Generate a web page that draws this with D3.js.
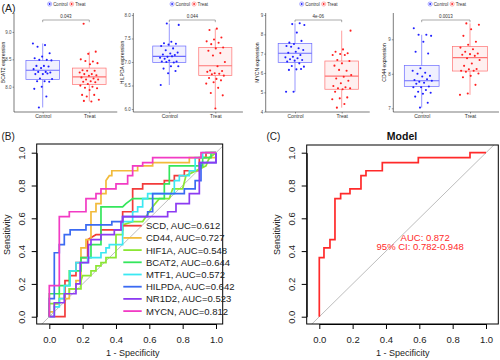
<!DOCTYPE html>
<html><head><meta charset="utf-8">
<script src="https://cdn.jsdelivr.net/npm/d3@7"></script>
<style>body{margin:0;background:#fff}svg{display:block;font-family:"Liberation Sans",Arial,Helvetica,sans-serif;font-weight:normal}</style>
</head><body><svg id="c" width="500" height="360"></svg>
<script>
// ---------------- DATA: panel A (boxplots) ----------------
const boxGenes = ["BCAT2","HILPDA","MYCN","CD44"];
const groups = ["Control","Treat"];
const pValues = ["0.043","0.044","4e-06","0.0013"];
const yTicks = [[8.0,8.5,9.0],[6.0,6.5,7.0,7.5,8.0],[4,5,6,7,8,9],[7,8,9]];
const tickFormats = [".1f",".1f","d","d"];
// [lower whisker, Q1, median, Q3, upper whisker]
const boxControl = [
  [7.62,8.13,8.30,8.48,8.79],
  [6.51,6.99,7.12,7.34,7.82],
  [5.03,6.55,7.02,7.53,8.57],
  [7.02,7.63,7.80,8.24,9.13]
];
const boxTreat = [
  [7.73,8.04,8.18,8.34,8.64],
  [6.01,6.71,6.92,7.31,7.71],
  [4.21,5.16,5.84,6.62,8.19],
  [7.39,8.08,8.47,8.79,9.46]
];
const bcat2Control = [8.79,8.76,8.73,8.61,8.55,8.52,8.49,8.49,8.48,8.38,8.38,8.37,8.34,8.32,8.27,8.27,8.26,8.23,8.23,8.24,8.15,8.14,8.10,8.10,8.09,8.00,7.96,7.82,7.62];
const bcat2Treat = [9.15,8.64,8.60,8.50,8.46,8.47,8.43,8.41,8.30,8.29,8.29,8.26,8.23,8.23,8.21,8.20,8.17,8.15,8.13,8.13,8.10,8.09,8.08,8.05,8.02,8.00,7.98,7.97,7.94,7.85,7.85,7.82,7.76,7.73,7.74];
const hilpdaControl = [7.82,7.79,7.43,7.40,7.39,7.37,7.34,7.29,7.25,7.20,7.18,7.16,7.15,7.11,7.09,7.12,7.07,7.01,7.03,7.01,6.99,7.00,6.91,6.91,6.86,6.81,6.76,6.51];
const hilpdaTreat = [7.71,7.68,7.52,7.48,7.44,7.41,7.38,7.31,7.29,7.24,7.19,7.14,7.00,6.91,6.82,6.81,6.76,6.79,6.75,6.74,6.71,6.64,6.66,6.61,6.57,6.54,6.45,6.34,6.29,6.01];
const mycnControl = [8.57,8.53,8.48,8.09,7.57,7.66,7.50,7.40,7.28,7.36,7.19,7.10,7.05,6.93,6.84,6.81,6.76,6.71,6.67,6.64,6.59,6.50,6.36,6.33,6.19,6.16,6.21,5.03,5.03];
const mycnTreat = [8.19,7.22,7.10,7.02,6.98,6.93,6.93,6.67,6.62,6.50,6.38,6.12,6.16,5.90,5.81,5.72,5.60,5.47,5.33,5.26,5.21,5.21,5.16,5.03,4.74,4.69,4.64,4.40,4.21];
const cd44Control = [9.32,9.13,9.13,9.10,8.93,8.64,8.59,8.16,8.09,8.03,8.00,7.94,7.92,7.82,7.84,7.77,7.80,7.74,7.71,7.63,7.61,7.61,7.53,7.48,7.45,7.42,7.34,7.16,7.02];
const cd44Treat = [9.46,9.42,9.29,9.10,8.93,8.84,8.76,8.71,8.64,8.59,8.57,8.55,8.52,8.45,8.40,8.30,8.23,8.14,8.13,8.09,8.09,8.06,8.01,7.94,7.90,7.68,7.43,7.39];
const pointsControl = [bcat2Control, hilpdaControl, mycnControl, cd44Control];
const pointsTreat = [bcat2Treat, hilpdaTreat, mycnTreat, cd44Treat];

// ---------------- DATA: panel B / C (ROC) ----------------
const rocGenes = ["SCD","CD44","HIF1A","BCAT2","MTF1","HILPDA","NR1D2","MYCN"];
const rocAUC = ["0.612","0.727","0.548","0.644","0.572","0.642","0.523","0.812"];
const rocTicks = [0,0.2,0.4,0.6,0.8,1.0];
const rocSCD = [[0,0],[0.094,0],[0.094,0.22],[0.125,0.22],[0.125,0.25],[0.16,0.25],[0.16,0.33],[0.19,0.33],[0.19,0.36],[0.23,0.36],[0.23,0.47],[0.28,0.5],[0.31,0.5],[0.31,0.53],[0.44,0.53],[0.44,0.64],[0.5,0.64],[0.5,0.78],[0.56,0.78],[0.56,0.81],[0.69,0.81],[0.69,0.83],[0.75,0.83],[0.75,0.86],[0.81,0.86],[0.81,0.89],[0.9,0.89],[0.9,0.97],[0.94,0.97],[0.94,1],[1,1]];
const rocCD44 = [[0,0],[0,0.03],[0.03,0.03],[0.03,0.08],[0.06,0.08],[0.06,0.11],[0.12,0.11],[0.12,0.17],[0.16,0.17],[0.16,0.22],[0.19,0.22],[0.19,0.42],[0.22,0.42],[0.22,0.47],[0.25,0.47],[0.25,0.64],[0.28,0.64],[0.28,0.69],[0.31,0.69],[0.31,0.75],[0.34,0.75],[0.34,0.83],[0.36,0.86],[0.375,0.86],[0.375,0.89],[0.53,0.89],[0.53,0.92],[0.62,0.92],[0.62,0.94],[0.84,0.94],[0.84,0.97],[1,0.97],[1,1]];
const rocHIF1A = [[0,0],[0,0.08],[0.06,0.08],[0.06,0.14],[0.12,0.14],[0.12,0.17],[0.19,0.17],[0.19,0.22],[0.2,0.25],[0.25,0.25],[0.25,0.28],[0.28,0.28],[0.28,0.31],[0.31,0.31],[0.31,0.33],[0.34,0.33],[0.34,0.36],[0.4,0.36],[0.4,0.5],[0.44,0.5],[0.44,0.56],[0.5,0.58],[0.56,0.58],[0.6,0.64],[0.62,0.67],[0.66,0.72],[0.72,0.72],[0.74,0.78],[0.8,0.78],[0.82,0.86],[0.94,0.92],[0.96,0.97],[1,1]];
const rocBCAT2 = [[0,0],[0,0.14],[0.06,0.14],[0.06,0.19],[0.12,0.19],[0.12,0.28],[0.19,0.28],[0.19,0.36],[0.25,0.36],[0.25,0.44],[0.31,0.44],[0.31,0.67],[0.44,0.67],[0.46,0.69],[0.5,0.72],[0.69,0.72],[0.69,0.81],[0.72,0.81],[0.72,0.92],[0.92,0.92],[0.92,0.97],[0.97,0.97],[0.97,1],[1,1]];
const rocMTF1 = [[0,0],[0.03,0],[0.03,0.06],[0.06,0.06],[0.06,0.11],[0.09,0.11],[0.09,0.19],[0.125,0.19],[0.125,0.28],[0.16,0.28],[0.16,0.33],[0.23,0.33],[0.23,0.36],[0.31,0.36],[0.31,0.39],[0.34,0.39],[0.34,0.42],[0.36,0.42],[0.36,0.44],[0.44,0.44],[0.44,0.58],[0.5,0.58],[0.5,0.64],[0.53,0.64],[0.53,0.67],[0.56,0.67],[0.56,0.72],[0.59,0.72],[0.59,0.75],[0.75,0.75],[0.75,0.83],[0.78,0.83],[0.78,0.86],[0.84,0.86],[0.84,0.89],[0.875,0.89],[0.875,0.97],[0.92,0.97],[0.92,1],[1,1]];
const rocHILPDA = [[0,0],[0,0.11],[0.03,0.11],[0.03,0.39],[0.06,0.39],[0.06,0.44],[0.09,0.44],[0.09,0.5],[0.125,0.5],[0.125,0.53],[0.22,0.53],[0.22,0.56],[0.375,0.56],[0.375,0.58],[0.44,0.58],[0.44,0.61],[0.59,0.61],[0.59,0.64],[0.62,0.64],[0.62,0.75],[0.81,0.75],[0.81,0.78],[0.875,0.78],[0.875,0.83],[0.91,0.83],[0.91,0.94],[1,0.94],[1,1]];
const rocNR1D2 = [[0,0],[0.03,0],[0.03,0.085],[0.09,0.085],[0.09,0.14],[0.16,0.14],[0.16,0.2],[0.185,0.2],[0.185,0.33],[0.235,0.33],[0.235,0.44],[0.25,0.44],[0.25,0.47],[0.31,0.47],[0.31,0.5],[0.39,0.5],[0.39,0.53],[0.43,0.53],[0.43,0.58],[0.44,0.58],[0.44,0.61],[0.71,0.61],[0.71,0.64],[0.76,0.64],[0.76,0.69],[0.84,0.69],[0.84,0.75],[0.9,0.75],[0.9,0.94],[1,0.94],[1,1]];
const rocMYCN = [[0,0],[0,0.19],[0.06,0.19],[0.06,0.61],[0.12,0.61],[0.12,0.64],[0.22,0.64],[0.22,0.72],[0.28,0.72],[0.28,0.75],[0.31,0.75],[0.31,0.78],[0.40,0.78],[0.40,0.81],[0.47,0.81],[0.47,0.86],[0.50,0.86],[0.50,0.92],[0.56,0.92],[0.56,0.94],[0.62,0.94],[0.62,0.97],[0.91,0.97],[0.91,1],[1,1]];
const rocCurves = [rocSCD, rocCD44, rocHIF1A, rocBCAT2, rocMTF1, rocHILPDA, rocNR1D2, rocMYCN];
const modelROC = [[0,0],[0,0.36],[0.028,0.36],[0.028,0.42],[0.064,0.42],[0.064,0.47],[0.094,0.47],[0.094,0.72],[0.128,0.72],[0.128,0.75],[0.184,0.75],[0.184,0.78],[0.25,0.78],[0.25,0.86],[0.28,0.86],[0.28,0.89],[0.378,0.89],[0.378,0.94],[0.594,0.94],[0.594,0.97],[0.904,0.97],[0.904,1],[1,1]];
const modelAUC = "0.872";
const modelCI = ["0.782","0.948"];

// ---------------- STYLES / LAYOUT ----------------
const rocColors = ["#F23B3B","#F2BB3B","#8BE634","#34E65C","#3BE8F2","#3B6AF2","#8C3BF2","#F23BC4"];
const grpStroke = ["#6B6BFF","#FF7373"], grpFill = ["#F0F0FF","#FFF0F0"], grpPoint = ["#1F1FFF","#FF1F1F"];
const layouts = [
  {axisX:14,    cx:42.7,  tx:89.3,  dom:[7.537,9.347], titleX:5},
  {axisX:133.3, cx:169.3, tx:215.3, dom:[5.936,8.043], titleX:124},
  {axisX:265.7, cx:295,   tx:341.7, dom:[3.984,9.103], titleX:258.5},
  {axisX:393.3, cx:421.7, tx:470,   dom:[6.893,9.762], titleX:386}
];
const yTop = 13, yBot = 112;
const svg = d3.select("#c");

svg.append("text").attr("x",1.5).attr("y",11.5).attr("font-size",10.5).attr("fill","#222").text("(A)");

boxGenes.forEach((gene, i) => {
  const L = layouts[i];
  const x = d3.scalePoint().domain(groups).range([L.cx, L.tx]);
  const y = d3.scaleLinear().domain(L.dom).range([yBot, yTop]);
  const step = L.tx - L.cx;
  const right = L.tx + step * 0.6;
  const g = svg.append("g");
  g.append("line").attr("x1",L.axisX).attr("x2",L.axisX).attr("y1",yTop).attr("y2",yBot).attr("stroke","#222").attr("stroke-width",0.6);
  g.append("line").attr("x1",L.axisX).attr("x2",right).attr("y1",yBot).attr("y2",yBot).attr("stroke","#222").attr("stroke-width",0.6);
  const ya = g.append("g").attr("transform",`translate(${L.axisX},0)`)
    .call(d3.axisLeft(y).tickValues(yTicks[i]).tickFormat(d3.format(tickFormats[i])).tickSize(1.5).tickPadding(1));
  ya.select(".domain").remove();
  ya.selectAll("text").attr("font-size",4.5).attr("fill","#4d4d4d").attr("font-family","Liberation Sans, Arial");
  ya.selectAll("line").attr("stroke","#333").attr("stroke-width",0.5);
  const xa = g.append("g").attr("transform",`translate(0,${yBot})`)
    .call(d3.axisBottom(x).tickSize(1.5).tickPadding(1));
  xa.select(".domain").remove();
  xa.selectAll("text").attr("font-size",5).attr("fill","#333").attr("font-family","Liberation Sans, Arial");
  xa.selectAll("line").attr("stroke","#333").attr("stroke-width",0.5);
  g.append("text").attr("transform",`translate(${L.titleX},${(yTop+yBot)/2}) rotate(-90)`)
    .attr("text-anchor","middle").attr("font-size",5).attr("fill","#111").text(gene + " expression");
  const bw = step * 0.72;
  [boxControl[i], boxTreat[i]].forEach((s, j) => {
    const cx = x(groups[j]);
    g.append("line").attr("x1",cx).attr("x2",cx).attr("y1",y(s[0])).attr("y2",y(s[4]))
      .attr("stroke",grpStroke[j]).attr("stroke-width",0.7);
    g.append("rect").attr("x",cx-bw/2).attr("width",bw).attr("y",y(s[3])).attr("height",y(s[1])-y(s[3]))
      .attr("fill",grpFill[j]).attr("stroke",grpStroke[j]).attr("stroke-width",0.7);
    g.append("line").attr("x1",cx-bw/2).attr("x2",cx+bw/2).attr("y1",y(s[2])).attr("y2",y(s[2]))
      .attr("stroke",grpStroke[j]).attr("stroke-width",1.1);
  });
  [pointsControl[i], pointsTreat[i]].forEach((arr, j) => {
    const cx = x(groups[j]);
    g.selectAll(null).data(arr).enter().append("circle")
      .attr("cx",(d,k)=> cx + (((k*0.6180339 + i*0.37 + j*0.21) % 1) - 0.5) * 0.42 * step)
      .attr("cy",d=>y(d)).attr("r",1.05).attr("fill",grpPoint[j]);
  });
  const by = 20;
  g.append("path").attr("d",`M${L.cx},${by+2.2}V${by}H${L.tx}V${by+2.2}`)
    .attr("fill","none").attr("stroke","#555").attr("stroke-width",0.5);
  g.append("text").attr("x",(L.cx+L.tx)/2).attr("y",by-2.3).attr("text-anchor","middle")
    .attr("font-size",4.5).attr("fill","#333").text(pValues[i]);
  const lc = (L.axisX + right) / 2, start = lc - 18, ly = 4;
  groups.forEach((gr, j) => {
    const kx = start + j * 22;
    g.append("rect").attr("x",kx).attr("y",ly-2).attr("width",4).attr("height",4).attr("rx",1.6)
      .attr("fill",grpFill[j]).attr("stroke",grpStroke[j]).attr("stroke-width",0.5);
    g.append("circle").attr("cx",kx+2).attr("cy",ly).attr("r",0.9).attr("fill",grpPoint[j]);
    g.append("text").attr("x",kx+5.5).attr("y",ly+1.6).attr("font-size",4.5).attr("fill","#333").text(gr);
  });
});

// ---------------- ROC panels ----------------
function rocFrame(box, xr, label, lx) {
  const x = d3.scaleLinear().domain([0,1]).range(xr);
  const y = d3.scaleLinear().domain([0,1]).range([316.7,152.7]);
  const g = svg.append("g");
  const cid = "clip" + label.replace(/\W/g,"");
  svg.append("clipPath").attr("id",cid).append("rect")
    .attr("x",box.l).attr("y",box.t).attr("width",box.r-box.l).attr("height",box.b-box.t);
  g.append("line").attr("clip-path",`url(#${cid})`)
    .attr("x1",x(-0.2)).attr("y1",y(-0.2)).attr("x2",x(1.2)).attr("y2",y(1.2))
    .attr("stroke","#b5b5b5").attr("stroke-width",0.9);
  const xa = g.append("g").attr("transform",`translate(0,${box.b})`)
    .call(d3.axisBottom(x).tickValues(rocTicks).tickFormat(d3.format(".1f")).tickSize(5).tickSizeOuter(0).tickPadding(7));
  xa.select(".domain").attr("stroke","#000");
  xa.selectAll("text").attr("font-size",9.5).attr("fill","#222").attr("font-family","Liberation Sans, Arial");
  const ya = g.append("g").attr("transform",`translate(${box.l},0)`)
    .call(d3.axisLeft(y).tickValues(rocTicks).tickFormat(d3.format(".1f")).tickSize(5).tickSizeOuter(0));
  ya.select(".domain").attr("stroke","#000");
  ya.selectAll("text").attr("font-size",9.5).attr("fill","#222").attr("font-family","Liberation Sans, Arial")
    .attr("text-anchor","middle").attr("x",null).attr("dy",null).attr("y",0)
    .attr("transform","translate(-11.5,0) rotate(-90)");
  g.append("rect").attr("x",box.l).attr("y",box.t).attr("width",box.r-box.l).attr("height",box.b-box.t)
    .attr("fill","none").attr("stroke","#000").attr("stroke-width",1);
  g.append("text").attr("x",(xr[0]+xr[1])/2).attr("y",356).attr("text-anchor","middle")
    .attr("font-size",9).attr("font-weight","normal").attr("fill","#222").text("1 - Specificity");
  g.append("text").attr("transform",`translate(${box.l-27},${(316.7+152.7)/2}) rotate(-90)`)
    .attr("text-anchor","middle").attr("font-size",9).attr("font-weight","normal").attr("fill","#222").text("Sensitivity");
  svg.append("text").attr("x",lx).attr("y",140).attr("font-size",10).attr("fill","#222").text(label);
  return {x, y, g};
}

const B = rocFrame({l:36.7, r:222.7, t:144, b:324}, [49.3,216], "(B)", 1.5);
const lineB = d3.line().x(d=>B.x(d[0])).y(d=>B.y(d[1]));
rocCurves.forEach((c, k) => {
  B.g.append("path").attr("d",lineB(c)).attr("fill","none").attr("stroke",rocColors[k]).attr("stroke-width",1.7);
});
rocGenes.forEach((gname, k) => {
  const ly = 225.7 + k * 12.2;
  B.g.append("line").attr("x1",123.3).attr("x2",141.7).attr("y1",ly).attr("y2",ly).attr("stroke",rocColors[k]).attr("stroke-width",1.8);
  B.g.append("text").attr("x",146).attr("y",ly+3.4).attr("font-size",9.5).attr("fill","#222").text(`${gname}, AUC=${rocAUC[k]}`);
});

const C = rocFrame({l:306.7, r:498.3, t:145, b:324}, [319.3,486], "(C)", 266.5);
const lineC = d3.line().x(d=>C.x(d[0])).y(d=>C.y(d[1]));
C.g.append("path").attr("d",lineC(modelROC)).attr("fill","none").attr("stroke","#FF2A2A").attr("stroke-width",1.7);
C.g.append("text").attr("x",C.x(0.635)).attr("y",C.y(0.463)).attr("text-anchor","middle").attr("font-size",9.5).attr("fill","#FF2A2A").text("AUC: " + modelAUC);
C.g.append("text").attr("x",C.x(0.605)).attr("y",C.y(0.405)).attr("text-anchor","middle").attr("font-size",9.5).attr("fill","#FF2A2A").text(`95% CI: ${modelCI[0]}-${modelCI[1]}`);
svg.append("text").attr("x",402).attr("y",139.5).attr("text-anchor","middle").attr("font-size",10.5).attr("font-weight","bold").attr("fill","#111").text("Model");
</script></body></html>
